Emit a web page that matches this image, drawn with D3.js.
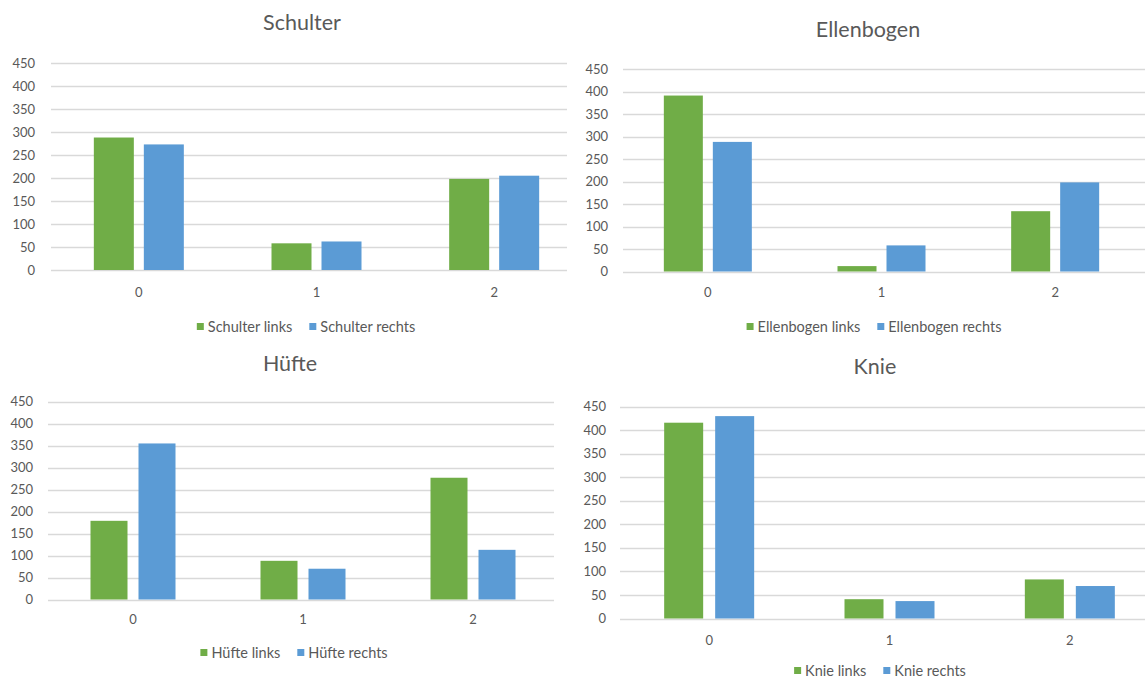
<!DOCTYPE html>
<html>
<head>
<meta charset="utf-8">
<script src="https://cdn.jsdelivr.net/npm/d3@7"></script>
<style>
  html, body { margin: 0; padding: 0; background: #fff; }
  svg { display: block; }
  text { font-family: Lato, "Open Sans", sans-serif; fill: #595959; }
</style>
</head>
<body>
<svg id="chart" width="1145" height="681"></svg>
<script>
// Categories and y-axis ticks shared by all four charts
const categories = ["0", "1", "2"];
const yTicks = [0, 50, 100, 150, 200, 250, 300, 350, 400, 450];

// Series values per joint (left / right)
const schulterLinks   = [288, 58, 198];
const schulterRechts  = [273, 62, 205];
const ellenbogenLinks  = [391, 12, 134];
const ellenbogenRechts = [288, 58, 198];
const hufteLinks  = [179, 88, 277];
const hufteRechts = [355, 70, 113];
const knieLinks  = [416, 41, 83];
const knieRechts = [430, 37, 69];

const GREEN = "#70AD47";
const BLUE = "#5B9BD5";

const panels = [
  { title: "Schulter", names: ["Schulter links", "Schulter rechts"], series: [schulterLinks, schulterRechts],
    titleX: 302, titleY: 30, top: 63, bottom: 270, band: [50, 583], grid: [51, 567], labelRight: 35,
    xLabelY: 297, legendX: 306, legendY: 332, barW: 40, gap: 10 },
  { title: "Ellenbogen", names: ["Ellenbogen links", "Ellenbogen rechts"], series: [ellenbogenLinks, ellenbogenRechts],
    titleX: 868, titleY: 37, top: 69, bottom: 271.5, band: [621, 1142], grid: [623, 1145], labelRight: 608,
    xLabelY: 297, legendX: 874, legendY: 332, barW: 39, gap: 10 },
  { title: "Hüfte", names: ["Hüfte links", "Hüfte rechts"], series: [hufteLinks, hufteRechts],
    titleX: 290, titleY: 371, top: 401.7, bottom: 599.5, band: [48, 558], grid: [48, 554], labelRight: 33,
    xLabelY: 624, legendX: 294, legendY: 658, barW: 37, gap: 11 },
  { title: "Knie", names: ["Knie links", "Knie rechts"], series: [knieLinks, knieRechts],
    titleX: 875, titleY: 374, top: 406.7, bottom: 618.5, band: [619, 1160], grid: [620, 1145], labelRight: 606,
    xLabelY: 645, legendX: 880, legendY: 676, barW: 39, gap: 12 }
];

const svg = d3.select("#chart");
const colors = [GREEN, BLUE];

panels.forEach(p => {
  const g = svg.append("g");

  const y = d3.scaleLinear().domain([0, 450]).range([p.bottom, p.top]);
  const step = (p.band[1] - p.band[0]) / categories.length;
  const groupW = 2 * p.barW + p.gap;
  const pad = 1 - groupW / step;
  const x = d3.scaleBand().domain(categories).range(p.band).paddingInner(pad).paddingOuter(pad / 2);
  const inner = d3.scaleBand().domain([0, 1]).range([0, x.bandwidth()])
    .paddingInner(p.gap / (p.barW + p.gap)).paddingOuter(0);

  // title
  g.append("text").attr("x", p.titleX).attr("y", p.titleY)
    .attr("text-anchor", "middle").style("font-size", "21.5px").text(p.title);

  // gridlines
  g.selectAll("line.grid").data(yTicks).join("line")
    .attr("x1", p.grid[0]).attr("x2", p.grid[1])
    .attr("y1", d => Math.round(y(d)) + 0.5).attr("y2", d => Math.round(y(d)) + 0.5)
    .attr("stroke", "#D9D9D9").attr("stroke-width", 1.3);

  // y tick labels
  g.selectAll("text.ytick").data(yTicks).join("text")
    .attr("x", p.labelRight).attr("y", d => y(d))
    .attr("dy", "0.35em").attr("text-anchor", "end")
    .style("font-size", "13px").text(d => d);

  // bars
  p.series.forEach((vals, si) => {
    g.selectAll("rect.s" + si).data(vals).join("rect")
      .attr("x", (d, i) => x(categories[i]) + inner(si))
      .attr("width", inner.bandwidth())
      .attr("y", d => y(d))
      .attr("height", d => y(0) - y(d))
      .attr("fill", colors[si]);
  });

  // x tick labels
  g.selectAll("text.xtick").data(categories).join("text")
    .attr("x", d => x(d) + x.bandwidth() / 2).attr("y", p.xLabelY)
    .attr("text-anchor", "middle").style("font-size", "13px").text(d => d);

  // legend
  const lg = g.append("g");
  const items = lg.selectAll("g").data(p.names).join("g");
  items.append("rect").attr("width", 7).attr("height", 7).attr("y", -9)
    .attr("fill", (d, i) => colors[i]);
  items.append("text").attr("x", 11).attr("y", 0).style("font-size", "14.5px").text(d => d);
  let cx = 0;
  items.each(function () {
    d3.select(this).attr("transform", `translate(${cx},0)`);
    cx += this.getBBox().width + 17;
  });
  const total = cx - 17;
  lg.attr("transform", `translate(${p.legendX - total / 2},${p.legendY})`);
});
</script>
</body>
</html>
